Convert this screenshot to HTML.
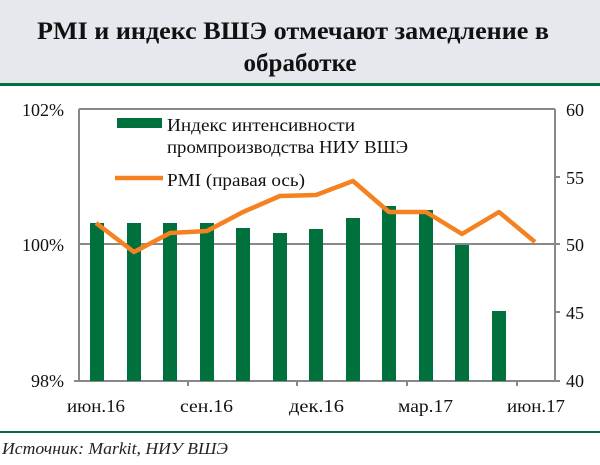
<!DOCTYPE html>
<html><head><meta charset="utf-8"><style>
body{margin:0;width:600px;height:460px;background:#fff;overflow:hidden;font-family:"Liberation Serif",serif}
</style></head><body>
<svg width="600" height="460" xmlns="http://www.w3.org/2000/svg" font-family="Liberation Serif, serif">
<rect x="0" y="0" width="600" height="84" fill="#e5e8ec"/>
<rect x="0" y="83" width="600" height="3" fill="#00703c"/>
<text x="37" y="39" font-size="25" font-weight="bold" fill="#111" textLength="512" lengthAdjust="spacingAndGlyphs">PMI и индекс ВШЭ отмечают замедление в</text>
<text x="300" y="71" font-size="25" font-weight="bold" text-anchor="middle" fill="#111">обработке</text>
<g stroke="#888" stroke-width="2" fill="none">
<line x1="79" y1="109" x2="555" y2="109"/>
<line x1="79" y1="244" x2="555" y2="244"/>
<line x1="79" y1="109" x2="79" y2="381"/>
<line x1="555" y1="109" x2="555" y2="381"/>
<line x1="74" y1="381" x2="560" y2="381"/>
<line x1="188" y1="381" x2="188" y2="386"/><line x1="297" y1="381" x2="297" y2="386"/>
<line x1="407" y1="381" x2="407" y2="386"/><line x1="517" y1="381" x2="517" y2="386"/>
<line x1="555" y1="177" x2="560" y2="177"/><line x1="555" y1="244" x2="560" y2="244"/><line x1="555" y1="312" x2="560" y2="312"/>
</g>
<g fill="#00703c">
<rect x="90" y="223" width="14" height="158"/>
<rect x="127" y="223" width="14" height="158"/>
<rect x="163" y="223" width="14" height="158"/>
<rect x="200" y="223" width="14" height="158"/>
<rect x="236" y="228" width="14" height="153"/>
<rect x="273" y="233" width="14" height="148"/>
<rect x="309" y="229" width="14" height="152"/>
<rect x="346" y="218" width="14" height="163"/>
<rect x="382" y="206" width="14" height="175"/>
<rect x="419" y="210" width="14" height="171"/>
<rect x="455" y="245" width="14" height="136"/>
<rect x="492" y="311" width="14" height="70"/>
</g>
<polyline fill="none" stroke="#f58220" stroke-width="4.5" stroke-linejoin="round" points="96,223 134,252 170,233 207,231 243,212 280,196 316,195 353,181 389,212 426,212 462,234 499,212 535,242"/>
<rect x="117" y="118" width="45" height="10" fill="#00703c"/>
<text x="167" y="131" font-size="18" fill="#111" textLength="188" lengthAdjust="spacingAndGlyphs">Индекс интенсивности</text>
<text x="167" y="153" font-size="18" fill="#111" textLength="241" lengthAdjust="spacingAndGlyphs">промпроизводства НИУ ВШЭ</text>
<line x1="115" y1="178" x2="163" y2="178" stroke="#f58220" stroke-width="4.5"/>
<text x="167" y="186" font-size="18" fill="#111" textLength="138" lengthAdjust="spacingAndGlyphs">PMI (правая ось)</text>
<g font-size="18" fill="#111" text-anchor="end">
<text x="64" y="116">102%</text><text x="64" y="251">100%</text><text x="64" y="387">98%</text>
</g>
<g font-size="18" fill="#111">
<text x="566" y="116">60</text><text x="566" y="184">55</text><text x="566" y="251">50</text><text x="566" y="319">45</text><text x="566" y="387">40</text>
</g>
<g font-size="18" fill="#111">
<text x="67" y="412" textLength="58" lengthAdjust="spacingAndGlyphs">июн.16</text>
<text x="180" y="412" textLength="53" lengthAdjust="spacingAndGlyphs">сен.16</text>
<text x="289" y="412" textLength="55" lengthAdjust="spacingAndGlyphs">дек.16</text>
<text x="398" y="412" textLength="55" lengthAdjust="spacingAndGlyphs">мар.17</text>
<text x="507" y="412" textLength="58" lengthAdjust="spacingAndGlyphs">июн.17</text>
</g>
<rect x="0" y="431" width="600" height="2" fill="#00703c"/>
<text x="2" y="454" font-size="17" font-style="italic" fill="#222" textLength="226" lengthAdjust="spacingAndGlyphs">Источник: Markit, НИУ ВШЭ</text>
</svg>
</body></html>
